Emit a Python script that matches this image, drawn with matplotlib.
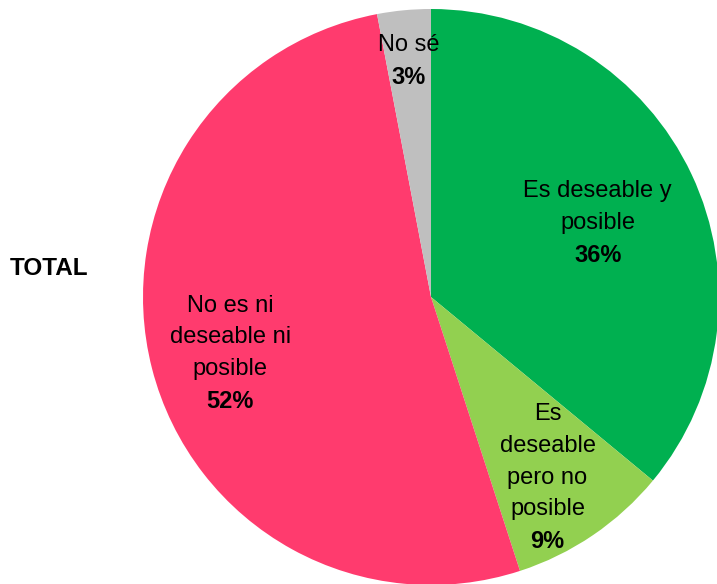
import numpy as np
import matplotlib.pyplot as plt

plt.rcParams['font.family'] = ['Liberation Sans', 'DejaVu Sans']

labels = ["Es deseable y\nposible", "Es\ndeseable\npero no\nposible", "No es ni\ndeseable ni\nposible", "No sé"]
values = [36, 9, 52, 3]
colors = ["#00B050", "#92D050", "#FF3B6E", "#BFBFBF"]
label_dist = [0.64, 0.72, 0.72, 0.83]
# small nudges (in points) to line the labels up with the original
nudge = [(0, -3.5), (0, -6.5), (0, -3.5), (0, -1.5)]

fig = plt.figure(figsize=(7.17, 5.84), dpi=100)
ax = fig.add_axes([143 / 717, -1 / 584, 576 / 717, 576 / 584])

wedges, _ = ax.pie(values, colors=colors, startangle=90, counterclock=False,
                   radius=1, wedgeprops=dict(linewidth=0))

pitch = 23  # line pitch in points (~32 px)
for w, lab, v, d, (nx, ny) in zip(wedges, labels, values, label_dist, nudge):
    ang = np.deg2rad((w.theta1 + w.theta2) / 2)
    x, y = d * np.cos(ang), d * np.sin(ang)
    lines = lab.split("\n") + [f"{v}%"]
    n = len(lines)
    for i, line in enumerate(lines):
        off = ((n - 1) / 2 - i) * pitch + ny
        bold = "bold" if i == n - 1 else "normal"
        ax.annotate(line, (x, y), xytext=(nx, off), textcoords="offset points",
                    ha="center", va="center", fontsize=17, fontweight=bold)

ax.set_xlim(-1, 1)
ax.set_ylim(-1, 1)
ax.set_aspect("equal")
ax.axis("off")

fig.text(10 / 717, 1 - 268 / 584, "TOTAL", ha="left", va="center", fontsize=17.5,
         fontweight="bold")

plt.savefig("out.png", dpi=100)
plt.close()
